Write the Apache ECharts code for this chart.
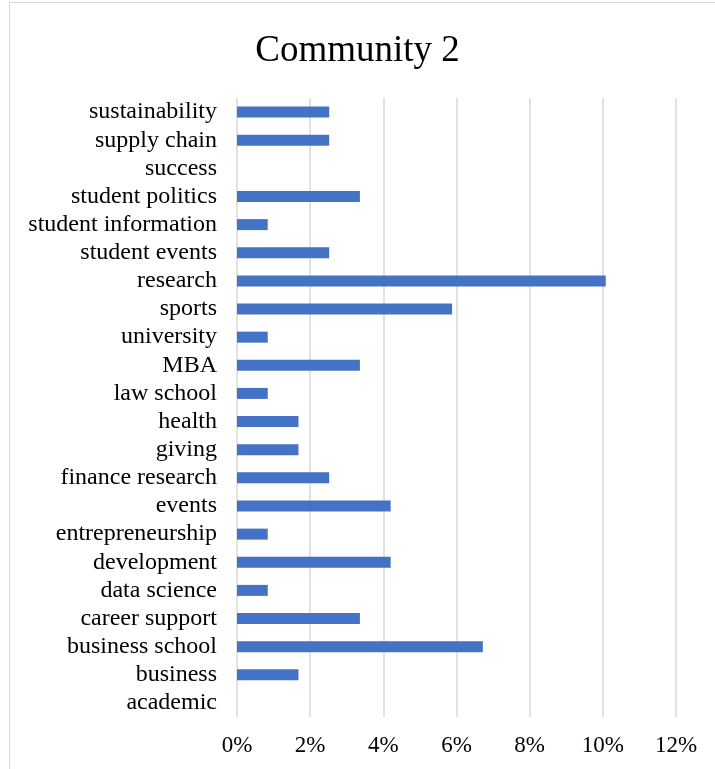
<!DOCTYPE html>
<html>
<head>
<meta charset="utf-8">
<script src="https://cdn.jsdelivr.net/npm/echarts@6/dist/echarts.min.js"></script>
<style>
  html, body { margin: 0; padding: 0; background: #fff; }
  #frame { position: absolute; left: 9px; top: 2px; width: 720px; height: 780px; border: 1px solid #d9d9d9; box-sizing: border-box; }
  #chart { position: absolute; left: 0; top: 0; width: 715px; height: 769px; }
</style>
</head>
<body>
<div id="frame"></div>
<div id="chart"></div>
<script>
// categories bottom -> top, as drawn on the axis
const categories = [
  'academic', 'business', 'business school', 'career support', 'data science',
  'development', 'entrepreneurship', 'events', 'finance research', 'giving',
  'health', 'law school', 'MBA', 'university', 'sports', 'research',
  'student events', 'student information', 'student politics', 'success',
  'supply chain', 'sustainability'
]
// share in percent
const shares = [
  0, 1.68, 6.72, 3.36, 0.84,
  4.20, 0.84, 4.20, 2.52, 1.68,
  1.68, 0.84, 3.36, 0.84, 5.88, 10.08,
  2.52, 0.84, 3.36, 0,
  2.52, 2.52
]
const xTicks = [0, 2, 4, 6, 8, 10, 12]

const font = '"Liberation Serif", "Times New Roman", serif'
const chart = echarts.init(document.getElementById('chart'))

chart.setOption({
  animation: false,
  title: {
    text: 'Community 2',
    left: 'center',
    top: 28,
    textStyle: { fontFamily: font, fontSize: 37, fontWeight: 'normal', color: '#000' }
  },
  grid: { left: 237, right: 39, top: 98, bottom: 52 },
  xAxis: {
    type: 'value',
    min: xTicks[0],
    max: xTicks[xTicks.length - 1],
    interval: 2,
    axisLine: { show: false },
    axisTick: { show: false },
    splitLine: { lineStyle: { color: '#d9d9d9', width: 1.5 } },
    axisLabel: {
      formatter: v => v + '%',
      margin: 17,
      fontFamily: font, fontSize: 23, color: '#000'
    }
  },
  yAxis: {
    type: 'category',
    data: categories,
    axisLine: { show: false },
    axisTick: { show: false },
    axisLabel: { interval: 0, margin: 20, fontFamily: font, fontSize: 24, color: '#000' }
  },
  series: [{
    type: 'bar',
    data: shares,
    barWidth: 11,
    itemStyle: { color: '#4472C4' }
  }]
})
</script>
</body>
</html>
